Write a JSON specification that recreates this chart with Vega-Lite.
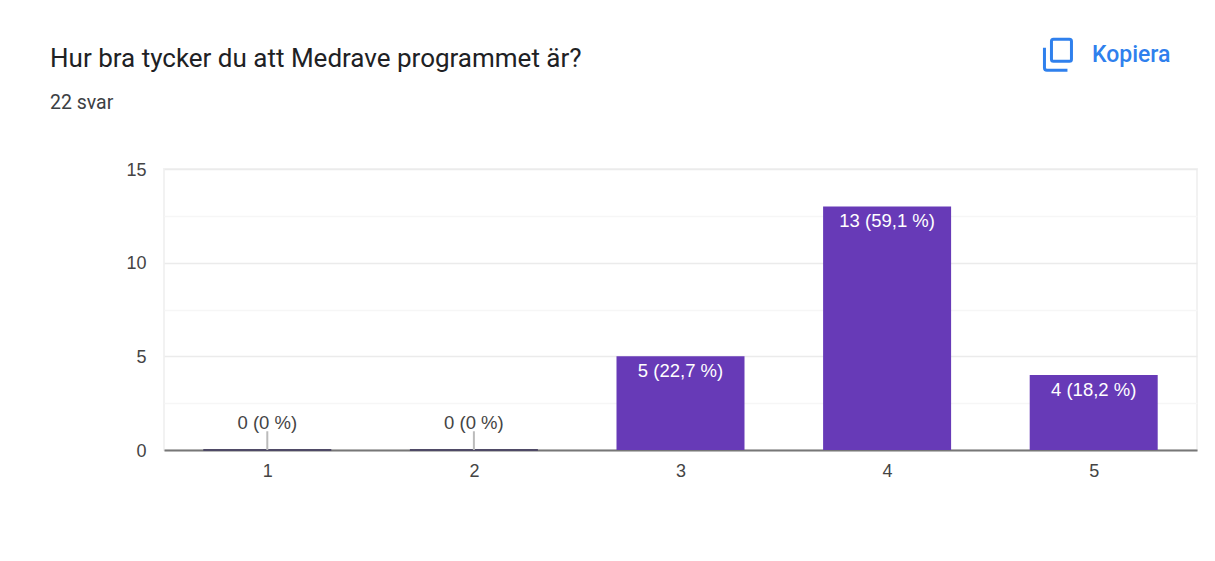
{"$schema":"https://vega.github.io/schema/vega-lite/v6.json","width":1033,"height":281,"autosize":{"type":"none"},"padding":{"left":164,"top":169,"right":18,"bottom":111},"background":"#ffffff","title":{"text":"Hur bra tycker du att Medrave programmet är?","subtitle":"22 svar","anchor":"start","frame":"group","dx":-114,"offset":-79,"font":"Roboto","fontSize":26,"fontWeight":"normal","color":"#202124","subtitleFont":"Roboto","subtitleFontSize":19.5,"subtitleColor":"#3c4043","subtitlePadding":22},"datasets":{"bars":[{"betyg":1,"antal":0,"linje":1,"etikett":"0 (0 %)"},{"betyg":2,"antal":0,"linje":1,"etikett":"0 (0 %)"},{"betyg":3,"antal":5,"linje":5,"etikett":"5 (22,7 %)"},{"betyg":4,"antal":13,"linje":13,"etikett":"13 (59,1 %)"},{"betyg":5,"antal":4,"linje":4,"etikett":"4 (18,2 %)"}],"knapp":[{"betyg":4.827,"antal":21.1,"knapp":"Kopiera"}]},"config":{"view":{"stroke":"#f2f2f2","strokeWidth":2}},"layer":[{"data":{"name":"bars"},"mark":{"type":"bar","width":128,"color":"#673ab7"},"encoding":{"x":{"field":"betyg","type":"quantitative","scale":{"domain":[0.5,5.5],"nice":false,"zero":false,"padding":0},"axis":{"values":[1,2,3,4,5],"title":null,"grid":false,"ticks":false,"labelFont":"Liberation Sans","labelFontSize":18,"labelColor":"#444444","labelPadding":12,"domainColor":"#777777","domainWidth":2,"format":"d"}},"y":{"field":"antal","type":"quantitative","scale":{"domain":[0,15],"nice":false},"axis":{"values":[0,2.5,5,7.5,10,12.5,15],"title":null,"ticks":false,"labelExpr":"datum.value % 5 === 0 ? datum.label : ''","labelFont":"Liberation Sans","labelFontSize":18,"labelColor":"#444444","labelPadding":18,"labelOffset":1,"domain":false,"gridColor":{"condition":{"test":"datum.value % 5 === 0","value":"#ebebeb"},"value":"#f6f6f6"},"gridWidth":1.5}}}},{"data":{"name":"bars"},"transform":[{"filter":"datum.antal === 0"}],"mark":{"type":"bar","width":128,"color":"#4f4a66","stroke":"#4f4a66","strokeWidth":2},"encoding":{"x":{"field":"betyg","type":"quantitative"},"y":{"field":"antal","type":"quantitative"}}},{"data":{"name":"bars"},"transform":[{"filter":"datum.antal === 0"}],"mark":{"type":"rule","color":"#bbbbbb","strokeWidth":2},"encoding":{"x":{"field":"betyg","type":"quantitative"},"y":{"field":"antal","type":"quantitative"},"y2":{"field":"linje"}}},{"data":{"name":"bars"},"transform":[{"filter":"datum.antal === 0"}],"mark":{"type":"text","font":"Liberation Sans","fontSize":18.5,"color":"#444444","dy":-27},"encoding":{"x":{"field":"betyg","type":"quantitative"},"y":{"field":"antal","type":"quantitative"},"text":{"field":"etikett"}}},{"data":{"name":"bars"},"transform":[{"filter":"datum.antal > 0"}],"mark":{"type":"text","font":"Liberation Sans","fontSize":18.5,"color":"#ffffff","dy":15},"encoding":{"x":{"field":"betyg","type":"quantitative"},"y":{"field":"antal","type":"quantitative"},"text":{"field":"etikett"}}},{"data":{"name":"knapp"},"mark":{"type":"text","font":"Roboto","fontSize":23,"fontWeight":500,"color":"#2f80ed","align":"left","dx":34,"clip":false},"encoding":{"x":{"field":"betyg","type":"quantitative"},"y":{"field":"antal","type":"quantitative"},"text":{"field":"knapp"}}},{"data":{"name":"knapp"},"mark":{"type":"point","filled":false,"stroke":"#2f80ed","strokeWidth":3,"size":4,"shape":"M-4.5,-15.5 H11.5 Q13.5,-15.5 13.5,-13.5 V4.5 Q13.5,6.5 11.5,6.5 H-4.5 Q-6.5,6.5 -6.5,4.5 V-13.5 Q-6.5,-15.5 -4.5,-15.5 Z M-13.5,-7 V13 Q-13.5,15.5 -11,15.5 H9.5","opacity":1,"clip":false},"encoding":{"x":{"field":"betyg","type":"quantitative"},"y":{"field":"antal","type":"quantitative"}}}]}
